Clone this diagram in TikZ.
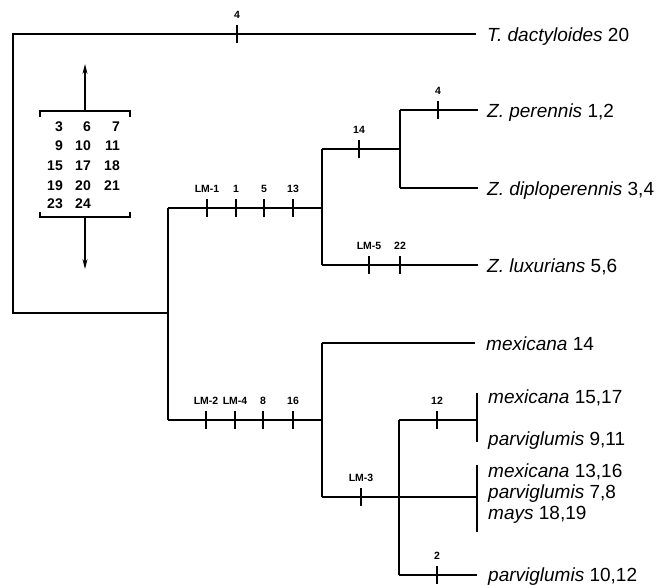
\documentclass[tikz,border=0pt]{standalone}
\usepackage{fontspec}
\setmainfont{Liberation Sans}
\usetikzlibrary{arrows.meta}
\tikzset{
  br/.style={line width=1.7pt},
  tk/.style={line width=1.1pt},
  thinl/.style={line width=1.1pt},
  sp/.style={anchor=base west,inner sep=0pt,font=\fontsize{19}{19}\selectfont},
  tl/.style={inner sep=0pt,font=\fontsize{10.5}{10.5}\selectfont\bfseries},
  bn/.style={inner sep=0pt,anchor=base east,font=\fontsize{14}{14}\selectfont\bfseries},
  mk/.pic={\draw[tk] (0,-9) -- (0,9); \node[tl] (lab) at (0,-19) {#1};}
}
\begin{document}
\begin{tikzpicture}[x=1pt,y=-1pt]
\useasboundingbox (0,0) rectangle (660,584);
% coordinates
\coordinate (rt) at (13,34);
\coordinate (rb) at (13,313);
\coordinate (Tend) at (476,34);
\coordinate (A) at (168,313);
\coordinate (A1) at (168,208);
\coordinate (A2) at (168,420);
\coordinate (B1) at (322,208);
\coordinate (Bt) at (322,149);
\coordinate (Bb) at (322,265);
\coordinate (C) at (400,149);
\coordinate (Ct) at (400,110);
\coordinate (Cb) at (400,188);
\coordinate (pEnd) at (478,110);
\coordinate (dEnd) at (478,188);
\coordinate (lEnd) at (478,265);
\coordinate (D) at (322,420);
\coordinate (Dt) at (322,343);
\coordinate (Db) at (322,497);
\coordinate (mEnd) at (475,343);
\coordinate (E) at (399,497);
\coordinate (Et) at (399,420);
\coordinate (Eb) at (399,575);
\coordinate (b1m) at (477,420);
\coordinate (b1t) at (477,393);
\coordinate (b1b) at (477,442);
\coordinate (b2m) at (477,497);
\coordinate (b2t) at (477,465);
\coordinate (b2b) at (477,532);
\coordinate (e2) at (477,575);
% species labels
\node[sp] (sT) at (487,41) {\textit{T. dactyloides} 20};
\node[sp] (sP) at (487,117) {\textit{Z. perennis} 1,2};
\node[sp] (sD) at (487,195) {\textit{Z. diploperennis} 3,4};
\node[sp] (sL) at (487,272) {\textit{Z. luxurians} 5,6};
\node[sp] (sM14) at (486,350) {\textit{mexicana} 14};
\node[sp] (sM15) at (488,403) {\textit{mexicana} 15,17};
\node[sp] (sP9) at (488,445) {\textit{parviglumis} 9,11};
\node[sp] (sM13) at (488,477) {\textit{mexicana} 13,16};
\node[sp] (sP7) at (488,498) {\textit{parviglumis} 7,8};
\node[sp] (sMy) at (488,519) {\textit{mays} 18,19};
\node[sp] (sP10) at (488,581) {\textit{parviglumis} 10,12};
% tree
\draw[br] (Tend) -- (rt) -- (rb) -- (A);
\draw[br] (A1) -- (A2);
\draw[br] (A1) -- (B1);
\draw[br] (Bt) -- (Bb);
\draw[br] (Bt) -- (C);
\draw[br] (Ct) -- (Cb);
\draw[br] (Ct) -- (pEnd);
\draw[br] (Cb) -- (dEnd);
\draw[br] (Bb) -- (lEnd);
\draw[br] (A2) -- (D);
\draw[br] (Dt) -- (Db);
\draw[br] (Dt) -- (mEnd);
\draw[br] (Db) -- (b2m);
\draw[br] (Et) -- (Eb);
\draw[br] (Et) -- (b1m);
\draw[br] (Eb) -- (e2);
\draw[thinl] (b1t) -- (b1b);
\draw[thinl] (b2t) -- (b2b);
% ticks
\pic (k1) at (237,34) {mk=4};
\pic (k2) at (207,208) {mk=LM-1};
\pic (k3) at (236,208) {mk=1};
\pic (k4) at (264,208) {mk=5};
\pic (k5) at (293,208) {mk=13};
\pic (k6) at (359,149) {mk=14};
\pic (k7) at (438,110) {mk=4};
\pic (k8) at (369,265) {mk=LM-5};
\pic (k9) at (400,265) {mk=22};
\pic (k10) at (206,420) {mk=LM-2};
\pic (k11) at (235,420) {mk=LM-4};
\pic (k12) at (263,420) {mk=8};
\pic (k13) at (293,420) {mk=16};
\pic (k14) at (361,497) {mk=LM-3};
\pic (k15) at (437,420) {mk=12};
\pic (k16) at (437,575) {mk=2};
% character block
\coordinate (qt1) at (40,117);
\coordinate (qt2) at (40,111);
\coordinate (qt3) at (130,111);
\coordinate (qt4) at (130,117);
\coordinate (qtm) at (85,111);
\coordinate (qup) at (85,64);
\coordinate (qb1) at (40,212);
\coordinate (qb2) at (40,217);
\coordinate (qb3) at (130,217);
\coordinate (qb4) at (130,212);
\coordinate (qbm) at (85,217);
\coordinate (qdn) at (85,269);
\draw[thinl] (qt1) -- (qt2) -- (qt3) -- (qt4);
\draw[thinl] (qb1) -- (qb2) -- (qb3) -- (qb4);
\draw[thinl,-{Stealth[length=10pt,width=5pt]}] (qtm) -- (qup);
\draw[thinl,-{Stealth[length=10pt,width=5pt]}] (qbm) -- (qdn);
\node[bn] (n3) at (63,131) {3};
\node[bn] (n6) at (91,131) {6};
\node[bn] (n7) at (120,131) {7};
\node[bn] (n9) at (63,150) {9};
\node[bn] (n10) at (91,150) {10};
\node[bn] (n11) at (120,150) {11};
\node[bn] (n15) at (63,170) {15};
\node[bn] (n17) at (91,170) {17};
\node[bn] (n18) at (120,170) {18};
\node[bn] (n19) at (63,190) {19};
\node[bn] (n20) at (91,190) {20};
\node[bn] (n21) at (120,190) {21};
\node[bn] (n23) at (63,208) {23};
\node[bn] (n24) at (91,208) {24};
\end{tikzpicture}
\end{document}
